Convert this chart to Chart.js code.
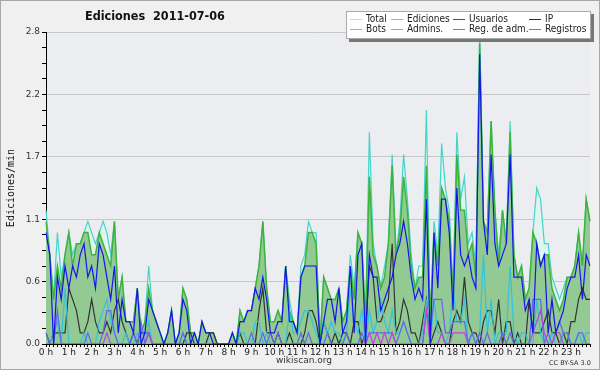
<!DOCTYPE html>
<html>
<head>
<meta charset="utf-8">
<script src="https://cdn.jsdelivr.net/npm/chart.js@4"></script>
<style>
  html, body { margin: 0; padding: 0; background: #f0f0f0; }
  #wrap { position: relative; width: 600px; height: 370px; overflow: hidden; }
  #wrap canvas { position: absolute; left: 0; top: 0; }
  #frame { position: absolute; left: 0; top: 0; width: 598px; height: 368px; border: 1px solid #a8a8a8; pointer-events: none; }
  .txt { position: absolute; font-family: "DejaVu Sans", sans-serif; color: #111; white-space: nowrap; }
  #title { left: 85px; top: 8px; font-size: 12.5px; font-weight: bold; font-family: "DejaVu Sans Condensed", "DejaVu Sans", sans-serif; }
  #site { left: 276px; top: 355px; font-size: 9px; color: #333; }
  #lic { left: 549px; top: 359px; font-size: 6.5px; color: #333; }
  #legend { position: absolute; left: 346px; top: 11px; width: 243px; height: 26px; background: #fff;
            border: 1px solid #aaa; box-shadow: 3px 3px 0 #777; }
  .lg { position: absolute; font-family: "DejaVu Sans Condensed", "DejaVu Sans", sans-serif; font-size: 10px; color: #222; line-height: 10px; white-space: nowrap; }
  .lg i { display: inline-block; width: 12px; height: 1px; vertical-align: middle; margin-right: 4px; }
</style>
</head>
<body>
<div id="wrap">
  <canvas id="chart" width="600" height="370"></canvas>
  <div id="title" class="txt">Ediciones&nbsp; 2011-07-06</div>
  <div id="site" class="txt">wikiscan.org</div>
  <div id="lic" class="txt">CC BY-SA 3.0</div>
  <div id="legend"></div>
  <div id="frame"></div>
</div>
<script>
// hour labels on the x axis (one every 6 slots of 10 min)
const hourLabels = ["0 h", "1 h", "2 h", "3 h", "4 h", "5 h", "6 h", "7 h", "8 h", "9 h", "10 h", "11 h",
  "12 h", "13 h", "14 h", "15 h", "16 h", "17 h", "18 h", "19 h", "20 h", "21 h", "22 h", "23 h"];

// edits per minute, 10 minute slots, 144 per series
const total = [
  1.2, 0.8, 0.4, 1.0, 0.6, 0.8, 1.0, 0.8, 0.9, 0.9, 1.0, 1.1,
  1.0, 0.9, 1.0, 1.1, 1.0, 0.8, 1.1, 0.4, 0.6, 0.2, 0.2, 0.2,
  0.5, 0.1, 0.2, 0.7, 0.3, 0.2, 0.1, 0, 0.1, 0.3, 0, 0.1,
  0.5, 0.4, 0.1, 0.1, 0, 0.2, 0.1, 0.1, 0.1, 0, 0, 0,
  0, 0.1, 0, 0.3, 0.2, 0.3, 0.3, 0.5, 0.7, 1.1, 0.5, 0.2,
  0.2, 0.3, 0.2, 0.7, 0.4, 0.2, 0.1, 0.7, 0.8, 1.1, 1.0, 1.0,
  0, 0.6, 0.5, 0.4, 0.4, 0.5, 0.2, 0.3, 0.8, 0.5, 1.0, 0.9,
  0.2, 1.9, 0.9, 0.7, 0.5, 0.7, 0.9, 1.7, 0.8, 1.1, 1.7, 1.3,
  0.8, 0.5, 0.7, 0.7, 2.1, 0.2, 1.1, 0.8, 1.8, 1.4, 1.2, 0.5,
  1.9, 1.3, 1.5, 0.9, 1.0, 0.7, 2.8, 1.1, 1.0, 2.0, 1.2, 0.8,
  1.2, 0.9, 2.0, 0.8, 0.6, 0.7, 0.4, 0.5, 1.0, 1.4, 1.3, 0.9,
  0.9, 0.6, 0.5, 0.4, 0.5, 0.6, 0.6, 0.7, 1.0, 0.7, 1.3, 1.1
];
const ediciones = [
  1.1, 0.8, 0.4, 0.7, 0.5, 0.8, 1.0, 0.7, 0.9, 0.9, 1.0, 1.0,
  0.8, 0.8, 1.0, 0.9, 0.8, 0.7, 1.1, 0.4, 0.6, 0.2, 0.2, 0.2,
  0.5, 0.1, 0.2, 0.5, 0.3, 0.2, 0.1, 0, 0.1, 0.3, 0, 0.1,
  0.5, 0.4, 0.1, 0.1, 0, 0.2, 0.1, 0.1, 0.1, 0, 0, 0,
  0, 0.1, 0, 0.3, 0.2, 0.3, 0.3, 0.5, 0.7, 1.1, 0.5, 0.2,
  0.2, 0.3, 0.2, 0.7, 0.3, 0.2, 0.1, 0.6, 0.7, 1.0, 1.0, 0.9,
  0, 0.6, 0.5, 0.4, 0.4, 0.5, 0.2, 0.3, 0.7, 0.4, 1.0, 0.9,
  0.2, 1.5, 0.8, 0.7, 0.5, 0.6, 0.9, 1.6, 0.8, 1.0, 1.5, 1.2,
  0.7, 0.5, 0.6, 0.6, 1.6, 0.2, 1.0, 0.7, 1.4, 1.3, 1.1, 0.4,
  1.7, 1.2, 1.2, 0.8, 0.9, 0.6, 2.7, 1.1, 1.0, 2.0, 1.2, 0.7,
  1.2, 0.9, 1.9, 0.8, 0.6, 0.7, 0.4, 0.5, 1.0, 0.9, 0.7, 0.8,
  0.8, 0.5, 0.4, 0.3, 0.4, 0.6, 0.6, 0.7, 1.0, 0.7, 1.3, 1.1
];
const usuarios = [
  1.0, 0.8, 0, 0.6, 0.4, 0.7, 0.5, 0.7, 0.6, 0.8, 0.9, 0.6,
  0.7, 0.5, 0.9, 0.8, 0.6, 0.4, 0.7, 0.1, 0.4, 0.2, 0.2, 0.1,
  0.5, 0, 0.1, 0.4, 0.3, 0.2, 0.1, 0, 0.1, 0.3, 0, 0.1,
  0.4, 0.3, 0, 0.1, 0, 0.2, 0.1, 0.1, 0, 0, 0, 0,
  0, 0.1, 0, 0.2, 0.2, 0.3, 0.3, 0.5, 0.4, 0.6, 0.4, 0.1,
  0.1, 0.2, 0.2, 0.7, 0.2, 0.2, 0.1, 0.6, 0.7, 0.7, 0.7, 0.7,
  0, 0.2, 0.4, 0.4, 0.2, 0.5, 0.1, 0.2, 0.7, 0.1, 0.8, 0.9,
  0, 0.8, 0.6, 0.6, 0.3, 0.4, 0.5, 0.6, 0.8, 0.9, 1.1, 0.9,
  0.6, 0.4, 0.5, 0.4, 1.3, 0, 1.0, 0.5, 1.3, 1.3, 1.0, 0.3,
  1.4, 0.8, 0.7, 0.8, 0.6, 0.5, 2.6, 1.1, 0.8, 1.7, 0.9, 0.7,
  0.8, 0.9, 1.7, 0.6, 0.6, 0.6, 0.3, 0.4, 0.1, 0.9, 0.7, 0.8,
  0.1, 0.4, 0.1, 0.2, 0.3, 0.5, 0.6, 0.6, 0.8, 0.4, 0.8, 0.7
];
const ip = [
  0.1, 0, 0.1, 0.1, 0.1, 0.1, 0.5, 0.4, 0.3, 0.1, 0.1, 0.2,
  0.4, 0.2, 0.1, 0.1, 0.2, 0.1, 0.3, 0.4, 0.2, 0.1, 0, 0.1,
  0, 0.1, 0.1, 0.1, 0, 0, 0, 0, 0, 0, 0, 0,
  0, 0.1, 0.1, 0, 0, 0, 0, 0.1, 0.1, 0, 0, 0,
  0, 0, 0, 0.1, 0, 0, 0, 0, 0.3, 0.5, 0.1, 0.1,
  0, 0.1, 0, 0, 0.1, 0, 0, 0, 0.1, 0.3, 0.3, 0.2,
  0, 0.2, 0.1, 0, 0.1, 0, 0.1, 0.1, 0, 0.2, 0.2, 0,
  0.1, 0.7, 0.6, 0.2, 0.2, 0.3, 0.4, 0.9, 0.1, 0.2, 0.4, 0.3,
  0.1, 0.1, 0, 0.2, 0.4, 0, 0.1, 0.2, 0.1, 0, 0, 0.2,
  0.3, 0.2, 0.6, 0.2, 0.1, 0.1, 0, 0.2, 0.3, 0.3, 0.1, 0.4,
  0, 0.2, 0.2, 0, 0.1, 0, 0, 0.4, 0.1, 0.1, 0.1, 0.2,
  0.3, 0.1, 0.1, 0, 0.1, 0, 0.2, 0.2, 0.4, 0.5, 0.4, 0.4
];
const bots = [
  0, 0, 0, 0, 0, 0, 0, 0, 0, 0, 0, 0,
  0, 0, 0, 0, 0, 0, 0, 0, 0, 0, 0, 0,
  0, 0, 0, 0, 0, 0, 0, 0, 0, 0, 0, 0,
  0, 0, 0, 0, 0, 0, 0, 0, 0, 0, 0, 0,
  0, 0, 0, 0, 0, 0, 0, 0, 0, 0, 0, 0,
  0, 0, 0, 0, 0, 0, 0, 0, 0, 0, 0, 0,
  0, 0, 0, 0, 0, 0, 0, 0, 0, 0, 0, 0,
  0, 0, 0, 0, 0, 0, 0, 0, 0, 0, 0, 0,
  0, 0, 0, 0, 0, 0, 0, 0, 0, 0, 0, 0,
  0, 0, 0, 0, 0, 0, 0, 0, 0, 0, 0, 0,
  0, 0, 0, 0, 0, 0, 0, 0, 0, 0, 0, 0,
  0, 0, 0, 0, 0, 0, 0, 0, 0, 0, 0, 0
];
const admins = [
  0, 0, 0.1, 0.2, 0, 0.5, 0, 0, 0, 0, 0.1, 0,
  0, 0, 0.2, 0.3, 0.4, 0.2, 0.1, 0, 0, 0.1, 0, 0,
  0.1, 0, 0, 0.2, 0, 0, 0, 0, 0, 0, 0, 0,
  0.1, 0, 0, 0, 0, 0, 0, 0, 0, 0, 0, 0,
  0, 0, 0, 0.1, 0.1, 0, 0, 0.2, 0.2, 0, 0.1, 0,
  0, 0, 0, 0, 0.3, 0.1, 0.1, 0.2, 0.3, 0.3, 0.2, 0.1,
  0, 0.2, 0.1, 0.2, 0.1, 0.1, 0, 0.1, 0.5, 0.2, 0.1, 0.3,
  0, 0.3, 0.1, 0.2, 0.4, 0.2, 0.1, 0.3, 0.1, 0.1, 0.2, 0.1,
  0, 0, 0, 0.1, 0.4, 0, 0.4, 0.1, 0.1, 0, 0.1, 0.5,
  0.2, 0.2, 0.4, 0, 0.1, 0, 0.1, 0.8, 0.1, 0.4, 0, 0.1,
  0.1, 0.1, 0.7, 0.1, 0, 0.1, 0.1, 0, 0, 0.4, 0.1, 0,
  0, 0.1, 0, 0, 0.1, 0.1, 0, 0, 0.1, 0, 0.1, 0.1
];
const regAdm = [
  0, 0, 0, 0, 0, 0, 0, 0, 0, 0, 0, 0,
  0, 0, 0, 0, 0.1, 0, 0, 0, 0, 0, 0, 0,
  0, 0, 0, 0.1, 0, 0, 0, 0, 0, 0, 0, 0,
  0, 0, 0, 0, 0, 0, 0, 0, 0, 0, 0, 0,
  0, 0, 0, 0, 0, 0, 0, 0, 0, 0, 0, 0,
  0, 0, 0, 0, 0, 0, 0, 0, 0, 0, 0, 0,
  0, 0, 0, 0, 0, 0, 0, 0, 0, 0, 0, 0,
  0, 0.1, 0, 0.1, 0, 0.1, 0, 0.1, 0, 0, 0, 0,
  0, 0, 0, 0, 0.3, 0, 0, 0, 0.1, 0, 0, 0.1,
  0.1, 0.1, 0.1, 0, 0, 0, 0, 0, 0, 0, 0, 0,
  0, 0, 0, 0, 0, 0, 0, 0, 0.1, 0.2, 0.3, 0.1,
  0, 0, 0.1, 0.1, 0, 0, 0, 0, 0, 0, 0, 0
];
const registros = [
  0.1, 0, 0, 0.3, 0, 0, 0, 0, 0, 0, 0, 0.1,
  0, 0, 0, 0.1, 0.3, 0.3, 0.1, 0, 0, 0, 0, 0.1,
  0, 0.2, 0, 0.1, 0, 0, 0, 0, 0, 0, 0, 0,
  0.1, 0, 0, 0, 0, 0, 0, 0, 0, 0, 0, 0,
  0, 0, 0, 0, 0, 0, 0.1, 0, 0, 0.1, 0, 0.1,
  0, 0.1, 0, 0, 0, 0, 0, 0.1, 0, 0.1, 0, 0,
  0, 0, 0.1, 0, 0, 0, 0, 0.1, 0, 0, 0, 0.1,
  0, 0.1, 0.1, 0.1, 0.1, 0.1, 0.1, 0.1, 0, 0.1, 0.2, 0.1,
  0, 0, 0, 0, 0.3, 0.1, 0.4, 0.4, 0.4, 0.1, 0.1, 0.2,
  0.2, 0.2, 0.2, 0, 0.1, 0, 0.1, 0, 0.1, 0, 0, 0,
  0.1, 0, 0.1, 0, 0, 0, 0, 0, 0.4, 0.4, 0.4, 0,
  0.1, 0, 0.1, 0.2, 0.1, 0.1, 0, 0, 0.1, 0.1, 0, 0
];

const slots = total.map((_, i) => i);

// legend entries: [label, colour], laid out 4 per row like the original
const legendItems = [
  ["Total", "#a8e4e4"], ["Ediciones", "#80d080"], ["Usuarios", "#4040e0"], ["IP", "#303030"],
  ["Bots", "#f0a040"], ["Admins.", "#40c8e0"], ["Reg. de adm.", "#d040e0"], ["Registros", "#7070f0"],
];
const legendCols = [3, 44, 106, 182];
const legend = document.getElementById("legend");
legendItems.forEach(([name, col], i) => {
  const el = document.createElement("div");
  el.className = "lg";
  el.style.left = legendCols[i % 4] + "px";
  el.style.top = (i < 4 ? 2 : 12) + "px";
  el.innerHTML = `<i style="background:${col}"></i>${name}`;
  legend.appendChild(el);
});

const plotBg = {
  id: "plotBg",
  beforeDraw(chart) {
    const { ctx, chartArea: a } = chart;
    ctx.save();
    ctx.fillStyle = "#ecedf0";
    ctx.fillRect(a.left, a.top, a.right - a.left, a.bottom - a.top);
    ctx.restore();
  },
};

const line = (label, data, color, order, extra) =>
  Object.assign(
    {
      label,
      data,
      borderColor: color,
      borderWidth: 1.2,
      pointRadius: 0,
      tension: 0,
      fill: false,
      order,
    },
    extra || {},
  );

new Chart(document.getElementById("chart").getContext("2d"), {
  type: "line",
  data: {
    labels: slots,
    datasets: [
      line("Total", total, "#44d4c8", 10, { fill: "origin", backgroundColor: "#e0f3ef" }),
      line("Ediciones", ediciones, "#3cb43c", 9, { fill: "origin", backgroundColor: "#93c993", borderWidth: 1.5 }),
      line("Bots", bots, "#f0a040", 7),
      line("IP", ip, "#333333", 6),
      line("Admins.", admins, "#30c4dc", 5),
      line("Registros", registros, "#6464f0", 4),
      line("Reg. de adm.", regAdm, "#c040e0", 3),
      line("Usuarios", usuarios, "#1414f0", 1),
    ],
  },
  options: {
    responsive: false,
    animation: false,
    events: [],
    layout: { padding: { left: 5, top: 32, right: 10, bottom: 0 } },
    plugins: {
      legend: { display: false },
      title: { display: false },
      tooltip: { enabled: false },
    },
    scales: {
      x: {
        type: "category",
        offset: false,
        afterFit: (s) => { s.height = 26; },
        border: { color: "#000", width: 1 },
        grid: { drawOnChartArea: false, tickLength: 3, tickColor: "#000", offset: false },
        ticks: {
          autoSkip: false,
          maxRotation: 0,
          padding: 0,
          color: "#222",
          font: { family: "DejaVu Sans", size: 9 },
          callback: (v, i) => (i % 6 === 0 ? hourLabels[i / 6] : ""),
        },
      },
      y: {
        min: 0,
        max: 2.8,
        afterFit: (s) => { s.width = 41; },
        border: { color: "#000", width: 1 },
        grid: {
          color: (c) => (c.index % 4 === 0 && c.index > 0 ? "#c8c8c8" : "rgba(0,0,0,0)"),
          tickColor: "#000",
          tickLength: 4,
        },
        ticks: {
          stepSize: 0.14,
          padding: 2,
          color: "#333",
          font: { family: "DejaVu Sans", size: 9 },
          callback: (v, i) => (i % 4 === 0 ? v.toFixed(1) : ""),
        },
        title: {
          display: true,
          text: "Ediciones/min",
          color: "#111",
          padding: { top: 0, bottom: 2 },
          font: { family: "DejaVu Sans Mono", size: 10 },
        },
      },
    },
  },
  plugins: [plotBg],
});
</script>
</body>
</html>
